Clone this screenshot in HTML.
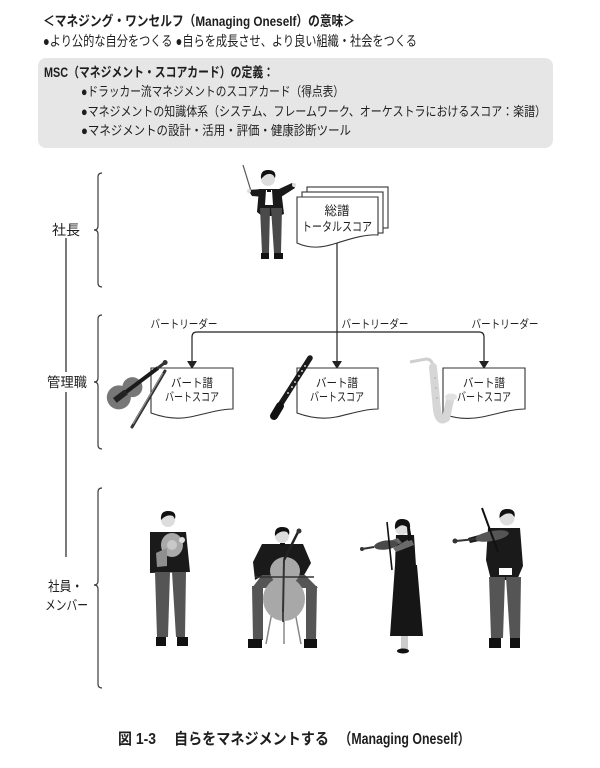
<!DOCTYPE html>
<html>
<head>
<meta charset="utf-8">
<style>
html,body{margin:0;padding:0;background:#fff;}
svg{display:block;}
text{font-family:"Liberation Sans","Noto Sans CJK JP",sans-serif;fill:#1e1e1e;}
.b{font-weight:bold;}
</style>
</head>
<body>
<svg width="600" height="768" viewBox="0 0 600 768" xmlns="http://www.w3.org/2000/svg">
<rect width="600" height="768" fill="#fff"/>

<!-- Header -->
<text x="43" y="26" font-size="14" class="b" textLength="312" lengthAdjust="spacingAndGlyphs">＜マネジング・ワンセルフ（Managing Oneself）の意味＞</text>
<text x="43" y="46" font-size="14" textLength="374" lengthAdjust="spacingAndGlyphs">●より公的な自分をつくる ●自らを成長させ、より良い組織・社会をつくる</text>

<!-- Gray box -->
<rect x="38" y="58" width="515" height="90" rx="8" fill="#e6e6e7"/>
<text x="44" y="77" font-size="13.5" class="b" textLength="230" lengthAdjust="spacingAndGlyphs">MSC（マネジメント・スコアカード）の定義：</text>
<text x="81" y="96" font-size="13" textLength="263" lengthAdjust="spacingAndGlyphs">●ドラッカー流マネジメントのスコアカード（得点表）</text>
<text x="81" y="116" font-size="13" textLength="465" lengthAdjust="spacingAndGlyphs">●マネジメントの知識体系（システム、フレームワーク、オーケストラにおけるスコア：楽譜）</text>
<text x="81" y="135" font-size="13" textLength="270" lengthAdjust="spacingAndGlyphs">●マネジメントの設計・活用・評価・健康診断ツール</text>

<!-- Left vertical line -->
<line x1="66" y1="238" x2="66" y2="557" stroke="#222" stroke-width="1.2"/>
<rect x="45" y="372" width="44" height="20" fill="#fff"/>

<!-- Labels -->
<text x="66" y="235" font-size="14" text-anchor="middle">社長</text>
<text x="67" y="387" font-size="13.5" text-anchor="middle" textLength="40" lengthAdjust="spacingAndGlyphs">管理職</text>
<text x="48" y="591" font-size="13.5" textLength="35" lengthAdjust="spacingAndGlyphs">社員・</text>
<text x="45" y="610" font-size="13.5" textLength="43" lengthAdjust="spacingAndGlyphs">メンバー</text>

<!-- Braces -->
<g fill="none" stroke="#3a3a3a" stroke-width="1.2">
<path d="M102,173 Q98,173 98,177 L98,226 Q98,230 94,230 Q98,230 98,234 L98,283 Q98,287 102,287"/>
<path d="M102,315 Q98,315 98,319 L98,378 Q98,382 94,382 Q98,382 98,386 L98,445 Q98,449 102,449"/>
<path d="M102,488 Q98,488 98,492 L98,581 Q98,585 94,585 Q98,585 98,589 L98,684 Q98,688 102,688"/>
</g>

<!-- Total score stack -->
<g stroke="#333" stroke-width="1.1" fill="#fff">
<rect x="307" y="187" width="81" height="41"/>
<rect x="302" y="192" width="81" height="41"/>
<path d="M297,197 L378,197 L378,235 C365,234 350,239 337,243 C322,248 310,249 297,243 Z"/>
</g>
<text x="337" y="215" font-size="12.5" text-anchor="middle">総譜</text>
<text x="337" y="231" font-size="12.5" text-anchor="middle" textLength="70" lengthAdjust="spacingAndGlyphs">トータルスコア</text>

<!-- Connectors -->
<g stroke="#222" stroke-width="1.2" fill="none">
<line x1="337" y1="243" x2="337" y2="362"/>
<path d="M192,362 L192,337 Q192,332 197,332 L479,332 Q484,332 484,337 L484,362"/>
</g>
<g fill="#222">
<polygon points="187,361 197,361 192,369"/>
<polygon points="332,361 342,361 337,369"/>
<polygon points="479,361 489,361 484,369"/>
</g>

<!-- Part leader labels -->
<text x="184" y="328" font-size="11.5" text-anchor="middle" textLength="67" lengthAdjust="spacingAndGlyphs">バートリーダー</text>
<text x="375" y="328" font-size="11.5" text-anchor="middle" textLength="67" lengthAdjust="spacingAndGlyphs">バートリーダー</text>
<text x="505" y="328" font-size="11.5" text-anchor="middle" textLength="67" lengthAdjust="spacingAndGlyphs">バートリーダー</text>

<!-- Part score boxes -->
<g stroke="#333" stroke-width="1.1" fill="#fff">
<path d="M151,368 L233,368 L233,409 C220,409 205,414 190,417 C175,420 162,417 151,413 Z"/>
<path d="M297,368 L378,368 L378,409 C365,409 350,414 336,417 C321,420 308,417 297,413 Z"/>
<path d="M443,368 L525,368 L525,409 C512,409 497,414 482,417 C467,420 454,418 443,414 Z"/>
</g>
<g font-size="12" text-anchor="middle">
<text x="192" y="387" textLength="42" lengthAdjust="spacingAndGlyphs">バート譜</text>
<text x="192" y="401" textLength="54" lengthAdjust="spacingAndGlyphs">バートスコア</text>
<text x="337" y="387" textLength="42" lengthAdjust="spacingAndGlyphs">バート譜</text>
<text x="337" y="401" textLength="54" lengthAdjust="spacingAndGlyphs">バートスコア</text>
<text x="484" y="387" textLength="42" lengthAdjust="spacingAndGlyphs">バート譜</text>
<text x="484" y="401" textLength="54" lengthAdjust="spacingAndGlyphs">バートスコア</text>
</g>

<!-- Violin instrument -->
<g transform="rotate(53 126 392)">
<ellipse cx="126" cy="401" rx="12" ry="12" fill="#777"/>
<ellipse cx="126" cy="384" rx="10" ry="10" fill="#777"/>
<rect x="121" y="390" width="10" height="4" fill="#777"/>
<rect x="124" y="352" width="4" height="40" fill="#1a1a1a"/>
<rect x="124.5" y="344" width="3" height="9" fill="#333"/>
<circle cx="126" cy="343" r="2.5" fill="#333"/>
<rect x="123" y="392" width="6" height="14" fill="#222"/>
</g>
<line x1="132" y1="427" x2="165" y2="371" stroke="#333" stroke-width="3" stroke-linecap="round"/>
<line x1="133" y1="424" x2="163" y2="373" stroke="#999" stroke-width="1"/>

<!-- Clarinet -->
<line x1="275" y1="413" x2="310" y2="358" stroke="#1a1a1a" stroke-width="5.5" stroke-linecap="round"/>
<line x1="274" y1="416" x2="280" y2="406" stroke="#111" stroke-width="8" stroke-linecap="round"/>
<g fill="#ccc">
<circle cx="288" cy="393" r="1"/><circle cx="292" cy="387" r="1"/><circle cx="295" cy="382" r="1"/>
<circle cx="299" cy="376" r="1"/><circle cx="302" cy="371" r="1"/><circle cx="305" cy="366" r="1"/>
</g>

<!-- Saxophone -->
<path d="M410,362 L426,359 Q432,359 433,366" fill="none" stroke="#cfcfcf" stroke-width="3"/>
<path d="M433,367 L437,410 Q439,423 446,418 L450,400" fill="none" stroke="#d6d6d6" stroke-width="8" stroke-linecap="round"/>
<ellipse cx="451" cy="397" rx="6" ry="3.5" fill="#e2e2e2"/>
<g fill="#bbb"><circle cx="435" cy="378" r="1"/><circle cx="436" cy="388" r="1"/><circle cx="437" cy="398" r="1"/></g>

<!-- Conductor -->
<g>
<line x1="243" y1="165" x2="251" y2="191" stroke="#555" stroke-width="1.2"/>
<polygon points="262,189 264,197 252,196 248,190" fill="#1a1a1a"/>
<polygon points="279,189 292,183 295,188 281,197" fill="#1a1a1a"/>
<circle cx="249" cy="191" r="2" fill="#ddd"/>
<circle cx="294" cy="185" r="2" fill="#ddd"/>
<polygon points="259,189 281,189 284,214 279,216 262,216 257,212" fill="#1a1a1a"/>
<polygon points="266,190 272,190 273,205 265,205" fill="#fff"/>
<rect x="267" y="190" width="4" height="2" fill="#111"/>
<polygon points="260,208 270,208 269,253 262,253" fill="#4a4a4a"/>
<polygon points="271,208 282,208 281,253 274,253" fill="#4a4a4a"/>
<rect x="261" y="253" width="8" height="6" fill="#111"/>
<rect x="274" y="253" width="9" height="6" fill="#111"/>
<circle cx="268" cy="179" r="7" fill="#ddd"/>
<path d="M261,179 Q260,170 268,170 Q277,170 275,178 L273,175 Q268,172 263,177 Z" fill="#111"/>
</g>

<!-- Musician 1: horn player -->
<g>
<polygon points="150,532 186,532 190,572 150,573" fill="#1a1a1a"/>
<polygon points="155,572 170,572 168,637 157,637" fill="#555"/>
<polygon points="172,572 186,572 185,637 176,637" fill="#555"/>
<ellipse cx="172" cy="545" rx="11" ry="12" fill="#a9a9a9"/>
<polygon points="156,553 167,548 167,566 157,567" fill="#8f8f8f"/>
<circle cx="172" cy="545" r="5" fill="#c8c8c8"/>
<circle cx="182" cy="540" r="3" fill="#ddd"/>
<rect x="156" y="637" width="10" height="9" fill="#111"/>
<rect x="177" y="637" width="11" height="9" fill="#111"/>
<circle cx="168" cy="520" r="7" fill="#ddd"/>
<path d="M161,520 Q160,511 168,511 Q177,511 175,519 L173,516 Q168,514 163,518 Z" fill="#111"/>
</g>

<!-- Musician 2: cellist -->
<g>
<line x1="272" y1="612" x2="266" y2="644" stroke="#888" stroke-width="1.5"/>
<line x1="295" y1="612" x2="301" y2="644" stroke="#888" stroke-width="1.5"/>
<line x1="284" y1="614" x2="284" y2="644" stroke="#888" stroke-width="1.5"/>
<polygon points="262,544 303,544 311,563 303,577 262,577 253,562" fill="#1a1a1a"/>
<polygon points="253,562 262,560 264,575 255,580" fill="#1a1a1a"/>
<polygon points="262,575 305,575 318,588 252,588" fill="#555"/>
<polygon points="252,586 263,586 263,640 253,640" fill="#555"/>
<polygon points="306,586 317,586 316,640 306,640" fill="#555"/>
<ellipse cx="284" cy="599" rx="21" ry="22" fill="#a8a8a8"/>
<ellipse cx="285" cy="571" rx="15" ry="14" fill="#a8a8a8"/>
<line x1="284" y1="560" x2="298" y2="532" stroke="#222" stroke-width="2.5"/>
<line x1="284" y1="560" x2="283" y2="612" stroke="#333" stroke-width="2"/>
<line x1="283" y1="612" x2="283" y2="622" stroke="#222" stroke-width="1.5"/>
<circle cx="299" cy="531" r="2.5" fill="#333"/>
<line x1="255" y1="577" x2="314" y2="577" stroke="#333" stroke-width="1.5"/>
<rect x="248" y="639" width="14" height="9" fill="#111"/>
<rect x="304" y="639" width="13" height="9" fill="#111"/>
<circle cx="282" cy="536" r="7" fill="#ddd"/>
<path d="M275,536 Q274,527 282,527 Q291,527 289,535 L287,532 Q282,530 277,534 Z" fill="#111"/>
<rect x="280" y="543" width="5" height="2.5" fill="#111"/>
</g>

<!-- Musician 3: woman violinist -->
<g>
<polygon points="396,535 414,535 416,566 395,566" fill="#161616"/>
<polygon points="395,565 417,565 423,636 390,636" fill="#161616"/>
<polygon points="398,538 402,543 380,549 378,545" fill="#6a6a6a"/>
<polygon points="411,538 414,545 396,552 393,548" fill="#6a6a6a"/>
<ellipse cx="386" cy="545" rx="12" ry="4.5" fill="#4a4a4a" transform="rotate(-8 386 545)"/>
<line x1="374" y1="547" x2="362" y2="549" stroke="#333" stroke-width="2"/>
<circle cx="362" cy="549" r="2" fill="#333"/>
<line x1="387" y1="522" x2="392" y2="570" stroke="#111" stroke-width="1.6"/>
<rect x="401" y="636" width="7" height="14" fill="#ccc"/>
<ellipse cx="403" cy="651" rx="6" ry="2.5" fill="#111"/>
<circle cx="402" cy="528" r="7" fill="#ddd"/>
<path d="M395,529 Q394,519 402,519 Q411,519 410,528 L412,540 L408,541 L407,527 Q402,523 397,528 Z" fill="#111"/>
</g>

<!-- Musician 4: man violinist -->
<g>
<polygon points="488,528 520,528 523,566 517,580 491,580 486,560" fill="#1a1a1a"/>
<polygon points="490,532 493,538 470,543 468,538" fill="#1a1a1a"/>
<polygon points="514,532 518,540 500,548 497,543" fill="#1a1a1a"/>
<rect x="499" y="568" width="13" height="7" fill="#fff"/>
<polygon points="489,577 505,577 503,638 491,638" fill="#555"/>
<polygon points="506,577 521,577 520,638 510,638" fill="#555"/>
<ellipse cx="492" cy="536" rx="17" ry="5" fill="#555" transform="rotate(-10 492 536)"/>
<line x1="476" y1="539" x2="456" y2="541" stroke="#333" stroke-width="2"/>
<circle cx="455" cy="541" r="2.5" fill="#333"/>
<line x1="482" y1="508" x2="498" y2="552" stroke="#111" stroke-width="2"/>
<rect x="489" y="638" width="12" height="10" fill="#111"/>
<rect x="510" y="638" width="10" height="10" fill="#111"/>
<circle cx="507" cy="518" r="7.5" fill="#ddd"/>
<path d="M499.5,518 Q499,509 507,509 Q516,509 514.5,517 L512,514 Q507,512 502,516 Z" fill="#111"/>
</g>

<!-- Caption -->
<text x="118" y="744" font-size="15.5" class="b" textLength="38" lengthAdjust="spacingAndGlyphs">図 1-3</text>
<text x="174" y="744" font-size="15.5" class="b" textLength="155" lengthAdjust="spacingAndGlyphs">自らをマネジメントする</text>
<text x="339" y="744" font-size="15.5" class="b" textLength="131" lengthAdjust="spacingAndGlyphs">（Managing Oneself）</text>
</svg>
</body>
</html>
